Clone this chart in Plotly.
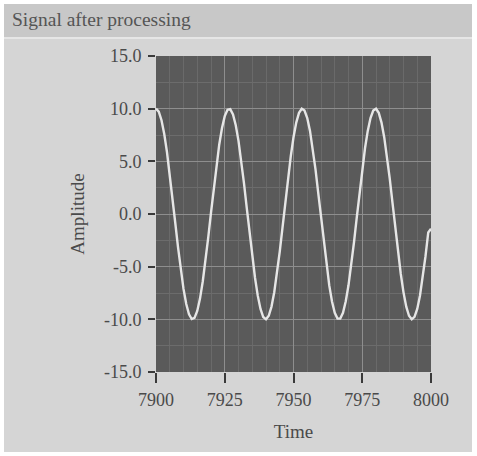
import plotly.graph_objects as go

# Time samples 7900..8000 and amplitude values
time = list(range(7900, 8001))
amplitude = [
    10.0, 9.72, 8.90, 7.59, 5.86, 3.80, 1.53, -0.83, -3.14, -5.27,
    -7.11, -8.55, -9.53, -9.97, -9.86, -9.20, -8.03, -6.41, -4.44, -2.22,
    0.12, 2.45, 4.66, 6.60, 8.17, 9.29, 9.90, 9.96, 9.46, 8.43,
    6.94, 5.07, 2.91, 0.59, -1.76, -4.02, -6.05, -7.75, -9.01, -9.78,
    -10.0, -9.66, -8.79, -7.43, -5.66, -3.58, -1.29, 1.06, 3.36, 5.47,
    7.28, 8.68, 9.60, 9.99, 9.82, 9.11, 7.89, 6.24, 4.23, 1.99,
    -0.36, -2.68, -4.87, -6.78, -8.31, -9.38, -9.93, -9.93, -9.38, -8.29,
    -6.77, -4.86, -2.68, -0.35, 2.00, 4.23, 6.24, 7.89, 9.11, 9.82,
    9.99, 9.60, 8.68, 7.27, 5.47, 3.36, 1.06, -1.30, -3.58, -5.67,
    -7.44, -8.80, -9.66, -10.0, -9.77, -9.01, -7.74, -6.05, -4.01, -1.75,
    -1.4,
]
x_ticks = [7900, 7925, 7950, 7975, 8000]
y_ticks = [-15.0, -10.0, -5.0, 0.0, 5.0, 10.0, 15.0]
y_tick_text = ["-15.0", "-10.0", "-5.0", "0.0", "5.0", "10.0", "15.0"]

W, H = 477, 456
L, R, T, B = 156, 46, 56, 84
pw, ph = W - L - R, H - T - B

def px(x):
    return (x - L) / pw

def py(y):
    return 1 - (y - T) / ph

fig = go.Figure()
fig.add_trace(go.Scatter(
    x=time, y=amplitude, mode="lines",
    line=dict(color="#e6e6e6", width=2.4),
    hoverinfo="skip", showlegend=False,
))

serif = "Liberation Serif, Times New Roman, serif"
txt = "#4a4a4a"

shapes = [
    # panel background
    dict(type="rect", xref="paper", yref="paper", x0=px(4), x1=px(472), y0=py(452), y1=py(4),
         fillcolor="#d5d5d5", line=dict(width=0), layer="below"),
    # title bar
    dict(type="rect", xref="paper", yref="paper", x0=px(4), x1=px(472), y0=py(37), y1=py(4),
         fillcolor="#c8c8c8", line=dict(width=0), layer="below"),
    dict(type="line", xref="paper", yref="paper", x0=px(4), x1=px(472), y0=py(38), y1=py(38),
         line=dict(color="#e6e6e6", width=2), layer="below"),
    # plot area
    dict(type="rect", xref="paper", yref="paper", x0=0, x1=1, y0=0, y1=1,
         fillcolor="#5a5a5a", line=dict(width=0), layer="below"),
]

fig.update_layout(
    width=W, height=H,
    margin=dict(l=L, r=R, t=T, b=B),
    paper_bgcolor="#ffffff",
    plot_bgcolor="#5a5a5a",
    shapes=shapes,
    font=dict(family=serif, size=18, color=txt),
    annotations=[dict(
        text="Signal after processing", xref="paper", yref="paper",
        x=px(10), y=py(19), xanchor="left", yanchor="middle",
        showarrow=False, font=dict(family=serif, size=19.5, color="#555555"),
    )],
    xaxis=dict(
        range=[7900, 8000], tickvals=x_ticks, ticktext=[str(v) for v in x_ticks],
        showgrid=True, gridcolor="#8e8e8e", gridwidth=1,
        minor=dict(dtick=5, showgrid=True, gridcolor="#6a6a6a", gridwidth=1, ticks=""),
        ticks="outside", ticklen=10, tickwidth=2, tickcolor="#3a3a3a",
        ticklabelstandoff=1,
        zeroline=False, showline=False,
        title=dict(text="Time", font=dict(family=serif, size=19, color=txt), standoff=16),
        tickfont=dict(family=serif, size=18, color=txt),
    ),
    yaxis=dict(
        range=[-15, 15], tickvals=y_ticks, ticktext=y_tick_text,
        showgrid=True, gridcolor="#8e8e8e", gridwidth=1,
        minor=dict(dtick=2.5, showgrid=True, gridcolor="#6c6c6c", gridwidth=1, ticks=""),
        ticks="outside", ticklen=7, tickwidth=2, tickcolor="#3a3a3a",
        ticklabelstandoff=3,
        zeroline=False, showline=False,
        title=dict(text="Amplitude", font=dict(family=serif, size=19, color=txt), standoff=14),
        tickfont=dict(family=serif, size=18, color=txt),
    ),
)

fig.write_html("out.html")
